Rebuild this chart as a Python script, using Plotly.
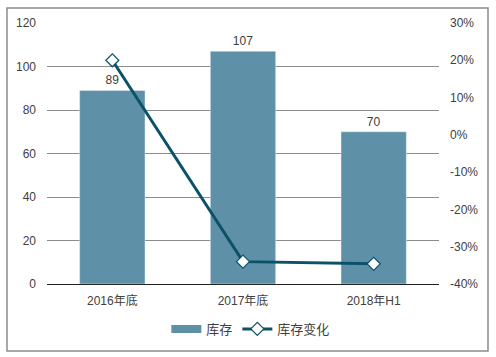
import plotly.graph_objects as go

categories = ["2016年底", "2017年底", "2018年H1"]
inventory = [89, 107, 70]
inventory_change = [20.0, -34.0, -34.6]
left_ticks = [0, 20, 40, 60, 80, 100, 120]
right_ticks = [-40, -30, -20, -10, 0, 10, 20, 30]

FONT = "Liberation Sans, Arial, Noto Sans CJK SC, sans-serif"
BAR_C = "#5E91A8"
LINE_C = "#0B5268"
TXT = "#404040"

fig = go.Figure()
fig.add_trace(go.Bar(
    x=categories, y=inventory, name="库存", marker_color=BAR_C,
    width=0.5, text=[str(v) for v in inventory], textposition="outside",
    textfont=dict(size=12, color=TXT, family=FONT), cliponaxis=False,
    showlegend=False, legendgroup="inv",
))
# legend entry for bars drawn as a wide swatch, like the reference
fig.add_trace(go.Scatter(
    x=[None], y=[None], name="库存", mode="lines",
    line=dict(color=BAR_C, width=8), legendgroup="inv", hoverinfo="skip",
))
fig.add_trace(go.Scatter(
    x=categories, y=inventory_change, name="库存变化", yaxis="y2",
    mode="lines+markers", line=dict(color=LINE_C, width=3),
    marker=dict(symbol="diamond", size=10, color="white",
                line=dict(color=LINE_C, width=1.2)),
    cliponaxis=False,
))

W, H = 496, 357
L, R, T, B = 47, 57, 23, 73
pw, ph = W - L - R, H - T - B

fig.update_layout(
    width=W, height=H,
    margin=dict(l=L, r=R, t=T, b=B),
    plot_bgcolor="white", paper_bgcolor="white",
    font=dict(family=FONT, size=12, color=TXT),
    showlegend=True,
    legend=dict(orientation="h", x=0.52, xanchor="center",
                y=(284 - 329) / ph, yanchor="middle",
                font=dict(size=13, color=TXT), tracegroupgap=0),
    xaxis=dict(showgrid=False, showline=True, linecolor="#222222", linewidth=1,
               ticks="", tickfont=dict(size=12, color=TXT), ticklabelstandoff=6),
    yaxis=dict(range=[0, 120], tickvals=left_ticks, showgrid=True,
               gridcolor="#8C8C8C", gridwidth=1, zeroline=False,
               showline=False, ticks="", ticklabelstandoff=10,
               tickfont=dict(size=12, color=TXT)),
    yaxis2=dict(range=[-40, 30], tickvals=right_ticks,
                ticktext=[f"{v}%" for v in right_ticks],
                overlaying="y", side="right", showgrid=False, zeroline=False,
                showline=False, ticks="", ticklabelstandoff=10,
                tickfont=dict(size=12, color=TXT)),
    bargap=0.5,
)

fig.add_shape(type="rect", xref="paper", yref="paper",
              x0=(7 - L) / pw, x1=(488 - L) / pw,
              y0=(284 - 351) / ph, y1=(284 - 8) / ph,
              line=dict(color="#8C8C8C", width=1.5), fillcolor="rgba(0,0,0,0)",
              layer="below")

fig.write_html("out.html")
